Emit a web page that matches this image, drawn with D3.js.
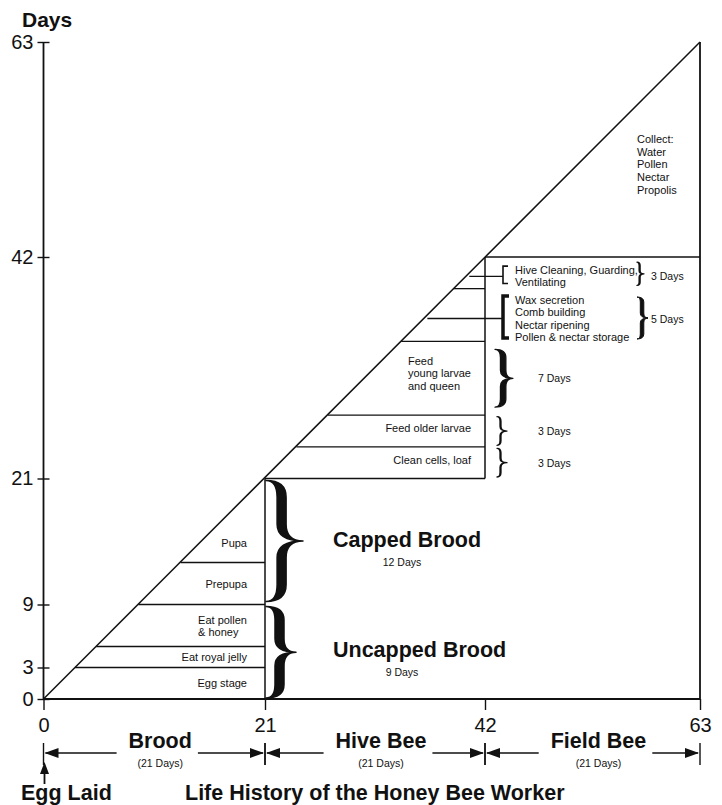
<!DOCTYPE html>
<html>
<head>
<meta charset="utf-8">
<script src="https://cdn.jsdelivr.net/npm/d3@7"></script>
<style>
body { margin: 0; background: #fff; }
text { font-family: Arial, "Liberation Sans", Helvetica, sans-serif; fill: #111; }
</style>
</head>
<body>
<script>
// axis ticks
var yTicks = [0, 3, 9, 21, 42, 63];
var xTicks = [0, 21, 42, 63];

// brood stages (day each ends on)
var broodStages = ["Egg stage", "Eat royal jelly", "Eat pollen|& honey", "Prepupa", "Pupa"];
var broodEnds = [3, 5, 9, 13, 21];

// capped / uncapped groups
var broodGroups = ["Uncapped Brood", "Capped Brood"];
var broodGroupEnds = [9, 21];
var broodGroupDays = [9, 12];

// hive bee tasks
var hiveStages = ["Clean cells, loaf", "Feed older larvae", "Feed|young larvae|and queen",
    "Wax secretion|Comb building|Nectar ripening|Pollen & nectar storage",
    "Hive Cleaning, Guarding,|Ventilating"];
var hiveEnds = [24, 27, 34, 39, 42];
var hiveDays = [3, 3, 7, 5, 3];

// field bee tasks
var fieldTasks = ["Collect:", "Water", "Pollen", "Nectar", "Propolis"];

// bottom phases
var phases = ["Brood", "Hive Bee", "Field Bee"];
var phaseEnds = [21, 42, 63];
var phaseDays = [21, 21, 21];

var ink = "#111";

var svg = d3.select("body")
    .append("svg")
    .attr("width", 722)
    .attr("height", 805);

var x = d3.scaleLinear().domain([0, 21, 42, 63]).range([43.5, 265, 485, 700]);
var y = d3.scaleLinear().domain([0, 21, 42, 63]).range([699, 478.5, 257, 42]);

function line(x1, y1, x2, y2, w) {
    svg.append("line")
        .attr("x1", x1).attr("y1", y1)
        .attr("x2", x2).attr("y2", y2)
        .attr("stroke", ink)
        .attr("stroke-width", w || 1.4);
}

// multi-line text block, lines left aligned; anchor "start" or "end" of the block
function block(str, xPos, yMid, anchor, size, lh) {
    var lines = str.split("|");
    var g = svg.append("g");
    var top = yMid - (lines.length - 1) * lh / 2;
    var texts = g.selectAll("text")
        .data(lines)
        .enter()
        .append("text")
        .attr("x", 0)
        .attr("y", function (d, i) { return top + i * lh; })
        .attr("dominant-baseline", "central")
        .attr("font-size", size)
        .text(function (d) { return d; });
    var maxW = 0;
    texts.each(function () { maxW = Math.max(maxW, this.getComputedTextLength()); });
    g.attr("transform", "translate(" + (anchor == "end" ? xPos - maxW : xPos) + ",0)");
    return { top: top, bottom: top + (lines.length - 1) * lh };
}

// filled curly brace pointing right
function brace(x0, y1, y2, w, t, sw) {
    var h = y2 - y1, m = (y1 + y2) / 2;
    var q = Math.min(w * 0.45, h / 5);
    var xa = x0 + w * 0.3, xb = xa + t;
    var p = "M" + x0 + "," + y1 +
        " Q" + xa + "," + y1 + " " + xa + "," + (y1 + q) +
        " L" + xa + "," + (m - q) +
        " Q" + xa + "," + m + " " + (x0 + w) + "," + m +
        " Q" + xa + "," + m + " " + xa + "," + (m + q) +
        " L" + xa + "," + (y2 - q) +
        " Q" + xa + "," + y2 + " " + x0 + "," + y2 +
        " Q" + xb + "," + y2 + " " + xb + "," + (y2 - q) +
        " L" + xb + "," + (m + q) +
        " Q" + xb + "," + m + " " + (x0 + w) + "," + m +
        " Q" + xb + "," + m + " " + xb + "," + (m - q) +
        " L" + xb + "," + (y1 + q) +
        " Q" + xb + "," + y1 + " " + x0 + "," + y1 + " Z";
    svg.append("path")
        .attr("d", p)
        .attr("fill", ink)
        .attr("stroke", ink)
        .attr("stroke-width", sw || 1)
        .attr("stroke-linejoin", "round");
}

function square(x0, y1, y2, w, sw) {
    svg.append("path")
        .attr("d", "M" + (x0 + w) + "," + y1 + " L" + x0 + "," + y1 + " L" + x0 + "," + y2 + " L" + (x0 + w) + "," + y2)
        .attr("fill", "none")
        .attr("stroke", ink)
        .attr("stroke-width", sw);
}

// axes
var yAxis = svg.append("g")
    .attr("transform", "translate(" + x(0) + ",0)")
    .call(d3.axisLeft(y).tickValues(yTicks).tickSize(6).tickPadding(4).tickFormat(d3.format("d")));
yAxis.select(".domain").remove();
yAxis.selectAll(".tick line").attr("x1", 6).attr("stroke", ink).attr("stroke-width", 1.4);
yAxis.selectAll(".tick text").attr("font-size", 20).attr("font-family", null).attr("fill", ink);

var xAxis = svg.append("g")
    .attr("transform", "translate(0," + y(0) + ")")
    .call(d3.axisBottom(x).tickValues(xTicks).tickSize(11).tickPadding(8).tickFormat(d3.format("d")));
xAxis.select(".domain").remove();
xAxis.selectAll(".tick line").attr("stroke", ink).attr("stroke-width", 1.4);
xAxis.selectAll(".tick text").attr("font-size", 20).attr("font-family", null).attr("fill", ink);

svg.append("text")
    .attr("x", 22).attr("y", 27)
    .attr("font-size", 21).attr("font-weight", "bold")
    .text("Days");

// frame and diagonal
line(x(0), y(0), x(63), y(0), 1.8);
line(x(0), y(0), x(0), y(63), 1.8);
line(x(0), y(0), x(63), y(63), 1.5);
line(x(21), y(0), x(21), y(21), 1.5);
line(x(21), y(21), x(42), y(21), 1.5);
line(x(42), y(21), x(42), y(42), 1.5);
line(x(42), y(42), x(63), y(42), 1.5);
line(x(63), y(0), x(63), y(63), 1.8);

// brood stages
broodEnds.forEach(function (d, i) {
    if (d < 21) line(x(d), y(d), x(21), y(d), 1.3);
    var start = i ? broodEnds[i - 1] : 0;
    var nudge = broodStages[i] == "Pupa" ? 22 : 0;
    block(broodStages[i], x(21) - 18, y((start + d) / 2) + nudge, "end", 11, 12);
});

broodGroups.forEach(function (g, i) {
    var start = i ? broodGroupEnds[i - 1] : 0;
    var end = broodGroupEnds[i];
    var mid = y((start + end) / 2);
    var w = i ? 37 : 30;
    brace(x(21) + 1, y(end) + 2, y(start) - (i ? 3 : 1), w, 9, 1.5);
    svg.append("text")
        .attr("x", x(21) + 68).attr("y", mid + 5)
        .attr("font-size", 21.5).attr("font-weight", "bold")
        .text(g);
    svg.append("text")
        .attr("x", x(21) + 137).attr("y", mid + 20)
        .attr("text-anchor", "middle").attr("dominant-baseline", "central")
        .attr("font-size", 10.5)
        .text(broodGroupDays[i] + " Days");
});

// hive bee tasks
hiveEnds.forEach(function (d, i) {
    if (d < 42) line(x(d), y(d), x(42), y(d), 1.3);
    var start = i ? hiveEnds[i - 1] : 21;
    var mid = (start + d) / 2;
    if (i < 3) {
        var nudge = hiveDays[i] > 3 ? -5 : -3;
        block(hiveStages[i], x(42) - 14, y(mid) + nudge, "end", 11, 12.5);
        var gap = hiveDays[i] > 3 ? 8 : 1.5;
        if (hiveDays[i] > 3) brace(x(42) + 10, y(d) + gap, y(start) - gap, 18, 5.5, 1.2);
        else brace(x(42) + 12, y(d) + gap, y(start) - gap, 10, 1, 1.3);
        svg.append("text")
            .attr("x", x(42) + 53).attr("y", y(mid))
            .attr("dominant-baseline", "central")
            .attr("font-size", 10.5)
            .text(hiveDays[i] + " Days");
    } else {
        var cy = y(mid) + 3.5;
        var b = block(hiveStages[i], x(42) + 30, cy, "start", 11, 12.3);
        var thick = hiveDays[i] > 3;
        square(x(42) + 18, b.top - 4, b.bottom + 1, thick ? 6 : 5, thick ? 3.5 : 1.6);
        line(Math.max(x(mid), x(d) - 32), cy, x(42) + 18, cy, 1.3);
        if (thick) brace(637, b.top - 3, b.bottom + 2, 11, 3.5, 1);
        else brace(637, b.top - 8, b.bottom + 3, 7, 1, 1.3);
        svg.append("text")
            .attr("x", 651).attr("y", cy)
            .attr("dominant-baseline", "central")
            .attr("font-size", 10.5)
            .text(hiveDays[i] + " Days");
    }
});

// field bee tasks
svg.append("g").selectAll("text")
    .data(fieldTasks)
    .enter()
    .append("text")
    .attr("x", x(42) + 152)
    .attr("y", function (d, i) { return y(53.5) + i * 12.6; })
    .attr("dominant-baseline", "central")
    .attr("font-size", 11)
    .text(function (d) { return d; });

// bottom phase row
var arrowY = 753;
function arrowHead(tipX, dir) {
    svg.append("path")
        .attr("d", "M" + tipX + "," + arrowY + " L" + (tipX + dir * 14) + "," + (arrowY - 5) +
            " L" + (tipX + dir * 14) + "," + (arrowY + 5) + " Z")
        .attr("fill", ink);
}
phases.forEach(function (p, i) {
    var s = i ? phaseEnds[i - 1] : 0;
    var e = phaseEnds[i];
    var cx = (x(s) + x(e)) / 2 + 6;
    line(x(s), 743, x(s), 765, 1.4);
    line(x(e), 743, x(e), 765, 1.4);
    var t = svg.append("text")
        .attr("x", cx).attr("y", 748)
        .attr("text-anchor", "middle")
        .attr("font-size", 21.5).attr("font-weight", "bold")
        .text(p);
    var half = t.node().getComputedTextLength() / 2;
    line(x(s) + 2, arrowY, cx - half - 12, arrowY, 1.6);
    line(cx + half + 6, arrowY, x(e) - 2, arrowY, 1.6);
    arrowHead(x(s) + 1, 1);
    arrowHead(x(e) - 1, -1);
    svg.append("text")
        .attr("x", cx).attr("y", 763)
        .attr("text-anchor", "middle").attr("dominant-baseline", "central")
        .attr("font-size", 10.5)
        .text("(" + phaseDays[i] + " Days)");
});

// egg laid arrow and title
line(x(0) + 1, 784, x(0) + 1, 770, 1.8);
svg.append("path")
    .attr("d", "M" + (x(0) + 1) + ",762 L" + (x(0) - 3.5) + ",774 L" + (x(0) + 5.5) + ",774 Z")
    .attr("fill", ink);
svg.append("text")
    .attr("x", 21).attr("y", 800)
    .attr("font-size", 21.5).attr("font-weight", "bold")
    .text("Egg Laid");
svg.append("text")
    .attr("x", 185).attr("y", 800)
    .attr("font-size", 21.5).attr("font-weight", "bold")
    .text("Life History of the Honey Bee Worker");
</script>
</body>
</html>
